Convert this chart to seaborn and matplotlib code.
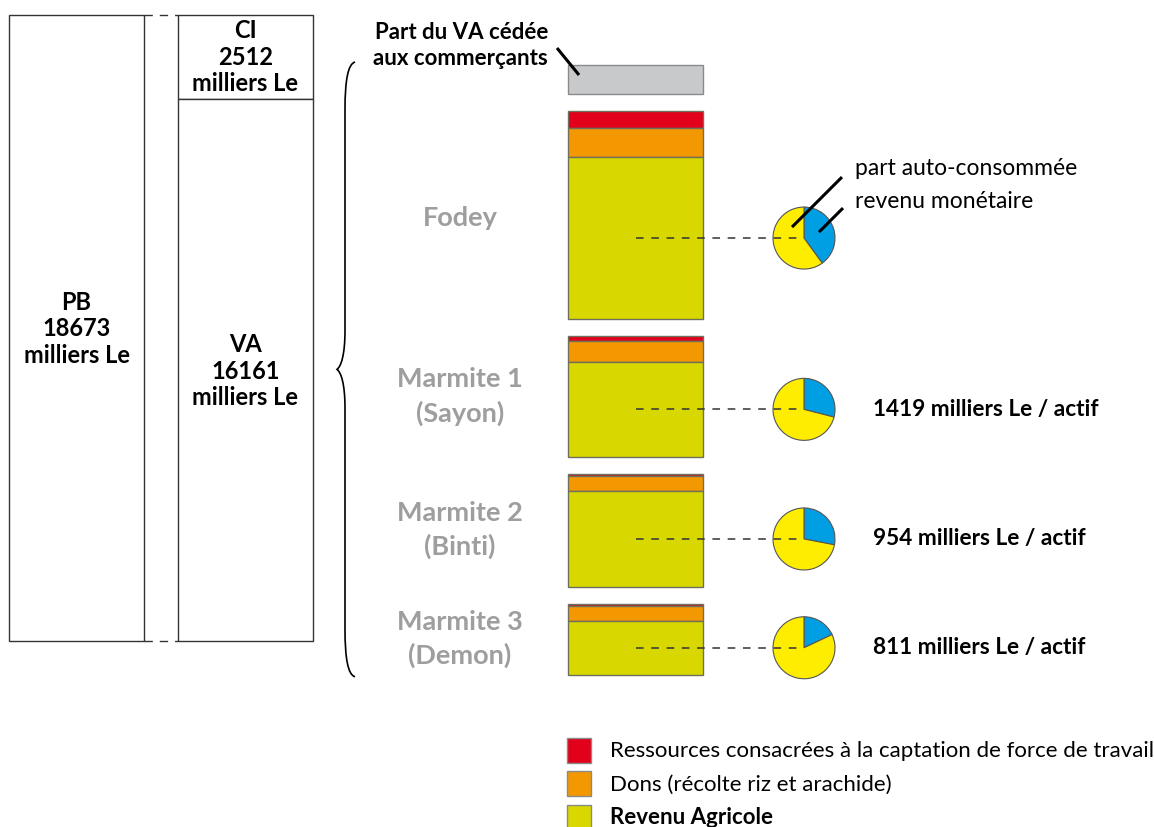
import matplotlib
matplotlib.use("Agg")
import matplotlib.pyplot as plt
import seaborn as sns
from matplotlib.path import Path
from matplotlib.patches import PathPatch, Rectangle

sns.set_theme(style="white")
plt.rcParams["font.family"] = ["Lato", "DejaVu Sans"]

# --- values (milliers Le) -------------------------------------------------
PB = 18673
CI = 2512
VA = PB - CI
part_commercants = 870
groupes = ["Fodey", "Marmite 1\n(Sayon)", "Marmite 2\n(Binti)", "Marmite 3\n(Demon)"]
captation = [495, 128, 72, 80]
dons = [865, 635, 447, 427]
revenu_agricole = [4850, 2830, 2850, 1612]
part_monetaire = [0.40, 0.29, 0.28, 0.18]
revenu_par_actif = [None, 1419, 954, 811]
legende = ["Ressources consacrées à la captation de force de travail",
           "Dons (récolte riz et arachide)",
           "Revenu Agricole"]

# --- styles ---------------------------------------------------------------
C_RED, C_ORANGE, C_GREEN = "#E2001A", "#F39800", "#D8D800"
C_GREY, C_BLUE, C_YELLOW = "#C8C9CB", "#009FE3", "#FFED00"
C_LABEL = "#9E9E9E"
EDGE = "#6f6f5c"

W, H = 1154, 827
BOX_TOP = 15
BOX_H = 626
K = BOX_H / PB                      # pixels per millier Le
STACK_TOP, GAP = 65, 17             # right-hand stack, pixels
STACK_X, STACK_W = 635.5, 135
PIE_X, PIE_R = 804, 31

fig = plt.figure(figsize=(W / 100, H / 100), dpi=100, facecolor="white")

# pixel-space overlay for text and guide lines
ax = fig.add_axes([0, 0, 1, 1])
ax.set_xlim(0, W)
ax.set_ylim(H, 0)
ax.axis("off")

# value-space axes for every box and bar (y in milliers Le)
vx = ax.twinx()
vx.set_ylim((H - BOX_TOP) / K, -BOX_TOP / K)
vx.axis("off")
vx.set_zorder(1)
ax.set_zorder(3)
ax.patch.set_visible(False)


def px(v):
    return BOX_TOP + v * K


# PB, CI and VA columns
vx.bar([76.5], [PB], bottom=[0], width=135, facecolor="white", edgecolor="#333333", linewidth=1)
vx.bar([245.5, 245.5], [CI, VA], bottom=[0, CI], width=135, facecolor="white",
       edgecolor="#333333", linewidth=1)
bold = dict(fontweight="bold", color="black", ha="center", va="center", linespacing=1.2)
ax.text(76.5, px(PB / 2) + 1, f"PB\n{PB}\nmilliers Le", fontsize=17, **bold)
ax.text(245.5, px(CI / 2), f"CI\n{CI}\nmilliers Le", fontsize=17, **bold)
ax.text(245.5, px(CI + VA / 2) + 1, f"VA\n{VA}\nmilliers Le", fontsize=17, **bold)
for y in (px(0), px(PB)):
    ax.plot([144, 178], [y, y], color="#333333", lw=1, dashes=(6, 5))

# right-hand stack: share sold to traders, then one bar per household
start = (STACK_TOP - BOX_TOP) / K
gap = GAP / K
vx.bar(STACK_X, part_commercants, bottom=start, width=STACK_W, facecolor=C_GREY,
       edgecolor="#8a8a8a", linewidth=1)
bottom = start + part_commercants
stack_end = bottom
for i, g in enumerate(groupes):
    bottom += gap
    top = bottom
    for val, col in ((captation[i], C_RED), (dons[i], C_ORANGE), (revenu_agricole[i], C_GREEN)):
        vx.bar(STACK_X, val, bottom=bottom, width=STACK_W, facecolor=col,
               edgecolor=EDGE, linewidth=1)
        bottom += val
    stack_end = bottom
    mid_total = px((top + bottom) / 2)
    mid_rev = px(bottom - revenu_agricole[i] / 2)

    ax.text(460, mid_total + (3 if "\n" not in g else 0), g, fontsize=19.5,
            fontweight="bold", color=C_LABEL, ha="center", va="center", linespacing=1.42)
    ax.plot([STACK_X, PIE_X], [mid_rev, mid_rev], color="#333333", lw=1.1, dashes=(5, 5))

    pa = fig.add_axes([(PIE_X - PIE_R - 2) / W, 1 - (mid_rev + PIE_R + 2) / H,
                       (2 * PIE_R + 4) / W, (2 * PIE_R + 4) / H])
    pa.pie([part_monetaire[i], 1 - part_monetaire[i]], colors=[C_BLUE, C_YELLOW],
           startangle=90, counterclock=False, radius=1,
           wedgeprops=dict(edgecolor="#555555", linewidth=0.8))
    lim = (PIE_R + 2) / PIE_R
    pa.set_xlim(-lim, lim)
    pa.set_ylim(-lim, lim)
    pa.set_aspect("equal")
    pa.axis("off")
    pa.set_zorder(2)

    if revenu_par_actif[i] is not None:
        ax.text(873, mid_rev, f"{revenu_par_actif[i]} milliers Le / actif", fontsize=16.3,
                fontweight="bold", color="black", ha="left", va="center")
    else:
        ax.plot([792, 842], [mid_rev - 11, mid_rev - 61], color="black", lw=2.2,
                solid_capstyle="butt")
        ax.plot([819, 843], [mid_rev - 6, mid_rev - 30], color="black", lw=2.2,
                solid_capstyle="butt")
        ax.text(855, mid_rev - 70, "part auto-consommée", fontsize=16.5, color="black",
                ha="left", va="center")
        ax.text(855, mid_rev - 37, "revenu monétaire", fontsize=16.5, color="black",
                ha="left", va="center")

# traders' share label
ax.text(548, 45.5, "Part du VA cédée\naux commerçants", fontsize=16, fontweight="bold",
        color="black", ha="right", va="center", multialignment="right", linespacing=1.25)
ax.plot([557, 579], [48, 75], color="black", lw=2.2, solid_capstyle="butt")

# curly brace spanning the VA breakdown
y0, y1 = STACK_TOP - 3, px(stack_end) + 2
ym = (y0 + y1) / 2
xl, xe, xt = 345, 355, 337
verts = [(xe, y0), (348, y0 + 2), (xl, y0 + 18), (xl, y0 + 48),
         (xl, ym - 39),
         (xl, ym - 14), (341, ym - 3), (xt, ym),
         (341, ym + 3), (xl, ym + 14), (xl, ym + 39),
         (xl, y1 - 48),
         (xl, y1 - 18), (348, y1 - 2), (xe, y1)]
codes = [Path.MOVETO, Path.CURVE4, Path.CURVE4, Path.CURVE4,
         Path.LINETO,
         Path.CURVE4, Path.CURVE4, Path.CURVE4,
         Path.CURVE4, Path.CURVE4, Path.CURVE4,
         Path.LINETO,
         Path.CURVE4, Path.CURVE4, Path.CURVE4]
ax.add_patch(PathPatch(Path(verts, codes), facecolor="none", edgecolor="black", lw=1.2))

# legend
for j, (lab, col) in enumerate(zip(legende, (C_RED, C_ORANGE, C_GREEN))):
    yc = 750 + j * 33.5
    ax.add_patch(Rectangle((567, yc - 12.5), 24, 25, facecolor=col, edgecolor="#8a8a8a", lw=1))
    ax.text(610, yc + 1, lab, fontsize=16, color="black", ha="left", va="center",
            fontweight="bold" if j == 2 else "normal")

fig.savefig("out.png", dpi=100, facecolor="white")
